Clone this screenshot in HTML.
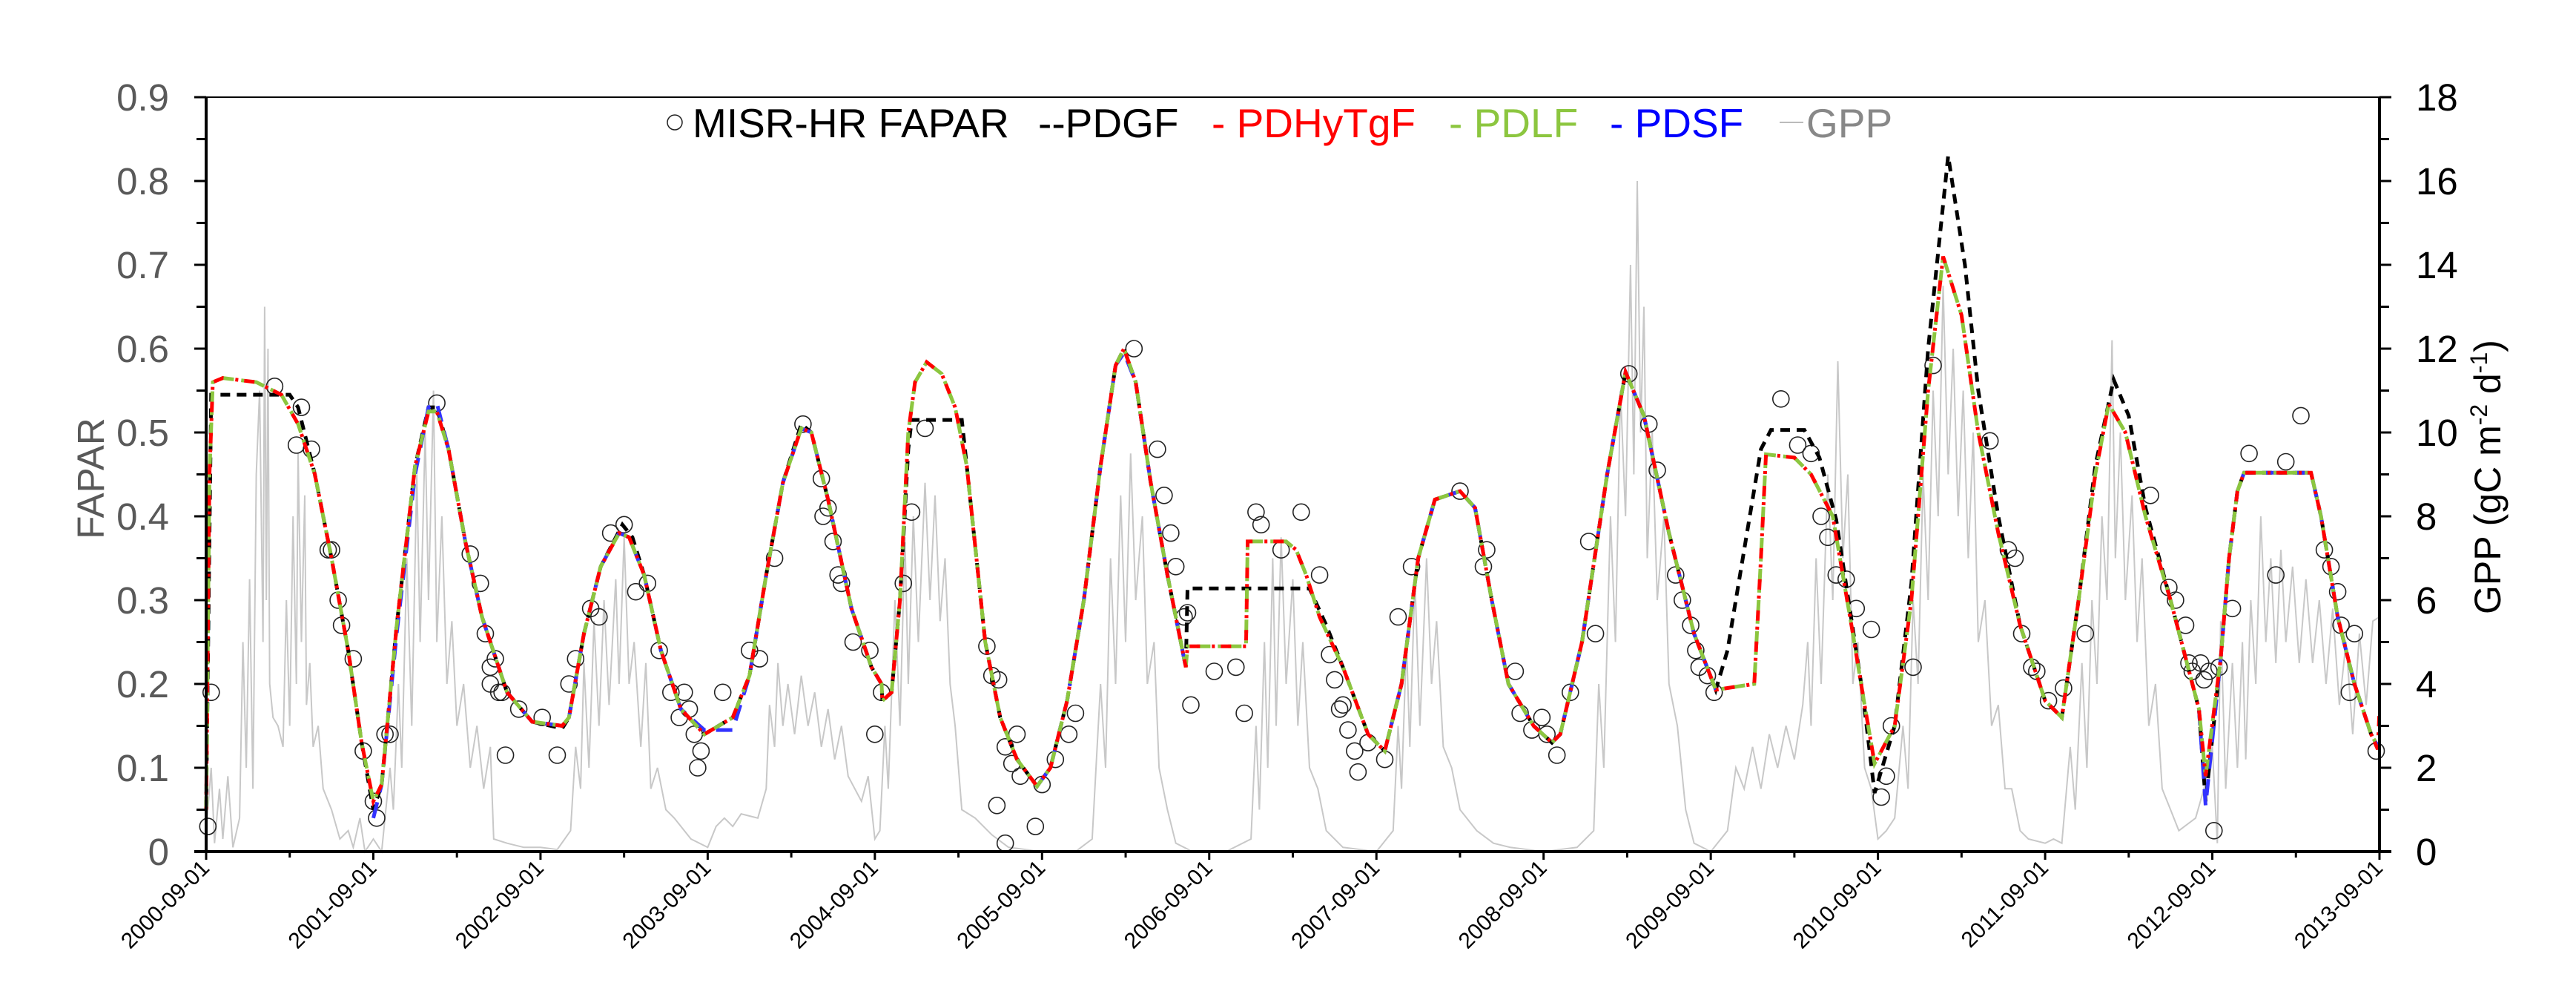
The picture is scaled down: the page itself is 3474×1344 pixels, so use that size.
<!DOCTYPE html>
<html><head><meta charset="utf-8"><title>FAPAR and GPP time series</title>
<style>
html,body{margin:0;padding:0;background:#fff;}
svg{display:block;font-family:"Liberation Sans",Arial,sans-serif;}
</style></head>
<body>
<svg id="chart" width="3474" height="1344" viewBox="0 0 3474 1344" xmlns="http://www.w3.org/2000/svg">
<rect x="0" y="0" width="3474" height="1344" fill="#fff"/>
<g id="gppLayer"></g>
<g id="obsLayer"></g>
<g id="curveLayer"></g>
<g id="axisLayer"></g>
<g id="legend">
  <circle cx="910" cy="165" r="10" fill="none" stroke="#222" stroke-width="1.5"/>
  <text x="934" y="185" font-size="55" fill="#000">MISR-HR FAPAR</text>
  <text x="1400" y="185" font-size="55" fill="#000">--PDGF</text>
  <text x="1634" y="185" font-size="55" fill="#ff0000">- PDHyTgF</text>
  <text x="1954" y="185" font-size="55" fill="#8cc63f">- PDLF</text>
  <text x="2171" y="185" font-size="55" fill="#0000ff">- PDSF</text>
  <line x1="2400" y1="165" x2="2432" y2="165" stroke="#bbb" stroke-width="2"/>
  <text x="2436" y="185" font-size="55" fill="#888">GPP</text>
</g>
<text transform="translate(140,645) rotate(-90)" text-anchor="middle" font-size="51" fill="#595959">FAPAR</text>
<text transform="translate(3372,643) rotate(-90)" text-anchor="middle" font-size="50" fill="#000">GPP (gC m<tspan dy="-18" font-size="32">-2</tspan><tspan dy="18"> d</tspan><tspan dy="-18" font-size="32">-1</tspan><tspan dy="18">)</tspan></text>
</svg>
<script>
// ---- data (t = years since 2000-09-01) ----
const xTickLabels = ["2000-09-01","2001-09-01","2002-09-01","2003-09-01","2004-09-01","2005-09-01","2006-09-01","2007-09-01","2008-09-01","2009-09-01","2010-09-01","2011-09-01","2012-09-01","2013-09-01"];
const leftTicks = ["0","0.1","0.2","0.3","0.4","0.5","0.6","0.7","0.8","0.9"];
const rightTicks = ["0","2","4","6","8","10","12","14","16","18"];

const pdlfT = [0,0.02,0.04,0.1,0.3,0.45,0.55,0.65,0.75,0.85,0.93,1.0,1.05,1.14,1.25,1.33,1.38,1.45,1.55,1.65,1.8,1.95,2.13,2.17,2.26,2.36,2.47,2.53,2.62,2.72,2.84,2.98,3.15,3.25,3.35,3.45,3.56,3.62,3.72,3.86,3.98,4.04,4.045,4.1,4.15,4.2,4.24,4.31,4.4,4.48,4.55,4.66,4.75,4.85,4.97,5.05,5.15,5.25,5.35,5.44,5.49,5.56,5.65,5.75,5.86,5.87,6.22,6.23,6.46,6.52,6.58,6.66,6.8,6.95,7.05,7.15,7.25,7.35,7.5,7.59,7.69,7.79,7.94,8.05,8.1,8.23,8.38,8.49,8.6,8.75,8.9,9.03,9.26,9.3,9.33,9.5,9.6,9.73,9.85,9.91,9.98,10.1,10.2,10.3,10.39,10.5,10.6,10.72,10.85,11.0,11.1,11.2,11.3,11.38,11.48,11.6,11.75,11.92,11.96,12.05,12.1,12.15,12.19,12.59,12.65,12.75,12.85,12.95,13.0];
const pdlfV = [0.05,0.45,0.56,0.565,0.56,0.545,0.51,0.45,0.35,0.24,0.13,0.06,0.08,0.27,0.46,0.525,0.525,0.48,0.37,0.28,0.19,0.155,0.15,0.16,0.26,0.34,0.38,0.375,0.33,0.24,0.17,0.14,0.16,0.21,0.33,0.44,0.505,0.5,0.42,0.29,0.22,0.2,0.18,0.19,0.3,0.5,0.56,0.584,0.57,0.53,0.46,0.25,0.16,0.11,0.078,0.1,0.18,0.3,0.46,0.58,0.6,0.56,0.44,0.33,0.22,0.245,0.245,0.37,0.37,0.36,0.33,0.28,0.22,0.14,0.12,0.2,0.35,0.42,0.43,0.41,0.3,0.2,0.15,0.13,0.14,0.25,0.45,0.572,0.52,0.38,0.26,0.193,0.2,0.35,0.474,0.47,0.45,0.4,0.26,0.187,0.105,0.15,0.3,0.55,0.71,0.64,0.5,0.38,0.27,0.18,0.16,0.3,0.45,0.534,0.5,0.4,0.3,0.17,0.09,0.23,0.35,0.43,0.452,0.452,0.4,0.28,0.2,0.14,0.122];

const pdgfT = [0,0.03,0.5,0.55,0.65,0.75,0.85,0.93,1.0,1.05,1.14,1.25,1.33,1.38,1.45,1.55,1.65,1.8,1.95,2.13,2.17,2.26,2.36,2.49,2.55,2.62,2.72,2.84,2.98,3.15,3.25,3.35,3.45,3.56,3.62,3.72,3.86,3.98,4.04,4.045,4.1,4.15,4.2,4.22,4.52,4.55,4.66,4.75,4.85,4.97,5.05,5.15,5.25,5.35,5.44,5.49,5.56,5.65,5.75,5.86,5.87,6.6,6.7,6.8,6.95,7.05,7.15,7.25,7.35,7.5,7.59,7.69,7.79,7.94,8.05,8.1,8.23,8.38,8.49,8.6,8.75,8.9,9.03,9.1,9.2,9.3,9.36,9.56,9.65,9.75,9.91,9.98,10.1,10.2,10.3,10.42,10.52,10.6,10.72,10.85,11.0,11.1,11.2,11.3,11.41,11.5,11.6,11.75,11.92,11.96,12.05,12.1,12.15,12.19,12.59,12.65,12.75,12.85,12.95,13.0];
const pdgfV = [0.05,0.545,0.545,0.53,0.45,0.35,0.24,0.13,0.05,0.08,0.27,0.46,0.53,0.53,0.48,0.37,0.28,0.19,0.155,0.147,0.16,0.26,0.34,0.39,0.375,0.33,0.24,0.17,0.14,0.16,0.21,0.33,0.44,0.51,0.5,0.42,0.29,0.22,0.2,0.18,0.19,0.3,0.48,0.515,0.515,0.46,0.25,0.16,0.11,0.078,0.1,0.18,0.3,0.46,0.58,0.6,0.56,0.44,0.33,0.22,0.314,0.314,0.27,0.22,0.14,0.12,0.2,0.35,0.42,0.43,0.41,0.3,0.2,0.15,0.13,0.14,0.25,0.45,0.572,0.52,0.38,0.26,0.193,0.24,0.36,0.48,0.503,0.503,0.47,0.396,0.187,0.07,0.15,0.32,0.6,0.83,0.7,0.55,0.4,0.27,0.18,0.16,0.3,0.46,0.563,0.52,0.41,0.3,0.17,0.06,0.23,0.35,0.43,0.452,0.452,0.4,0.28,0.2,0.14,0.122];

const pdhyT = [0,0.02,0.04,0.1,0.3,0.45,0.55,0.65,0.75,0.85,0.93,1.0,1.05,1.14,1.25,1.33,1.38,1.45,1.55,1.65,1.8,1.95,2.13,2.17,2.26,2.36,2.47,2.53,2.62,2.72,2.84,2.98,3.15,3.25,3.35,3.45,3.56,3.62,3.72,3.86,3.98,4.04,4.045,4.1,4.15,4.2,4.24,4.31,4.4,4.48,4.55,4.66,4.75,4.85,4.97,5.05,5.15,5.25,5.35,5.44,5.49,5.56,5.65,5.75,5.86,5.87,6.22,6.23,6.46,6.52,6.58,6.66,6.8,6.95,7.05,7.15,7.25,7.35,7.5,7.59,7.69,7.79,7.94,8.05,8.1,8.23,8.38,8.49,8.6,8.75,8.9,9.03,9.26,9.3,9.33,9.5,9.6,9.73,9.85,9.91,9.98,10.1,10.2,10.3,10.39,10.5,10.6,10.72,10.85,11.0,11.1,11.2,11.3,11.38,11.48,11.6,11.75,11.92,11.96,12.05,12.1,12.15,12.19,12.59,12.65,12.75,12.85,12.95,12.99,13.0];
const pdhyV = [0.05,0.45,0.56,0.565,0.56,0.545,0.51,0.45,0.35,0.24,0.13,0.06,0.08,0.27,0.46,0.525,0.525,0.48,0.37,0.28,0.19,0.155,0.15,0.16,0.26,0.34,0.38,0.375,0.33,0.24,0.17,0.14,0.16,0.21,0.33,0.44,0.505,0.5,0.42,0.29,0.22,0.2,0.18,0.19,0.3,0.5,0.56,0.584,0.57,0.53,0.46,0.25,0.16,0.11,0.078,0.1,0.18,0.3,0.46,0.58,0.6,0.56,0.44,0.33,0.22,0.245,0.245,0.37,0.37,0.36,0.33,0.28,0.22,0.14,0.12,0.2,0.35,0.42,0.43,0.41,0.3,0.2,0.15,0.13,0.14,0.25,0.45,0.572,0.52,0.38,0.26,0.193,0.2,0.35,0.474,0.47,0.45,0.4,0.26,0.187,0.105,0.15,0.3,0.55,0.71,0.64,0.5,0.38,0.27,0.18,0.16,0.3,0.45,0.534,0.5,0.4,0.3,0.17,0.09,0.23,0.35,0.43,0.452,0.452,0.4,0.28,0.2,0.14,0.122,0.17];

// null entries mark gaps where PDSF is not drawn
const pdsfT = [1.0,1.05,1.14,1.25,1.33,1.38,1.45,1.55,1.65,1.8,1.95,2.13,2.17,2.26,2.36,2.47,2.53,2.62,2.72,2.84,2.98,3.15,3.25,3.35,3.45,3.56,3.62,3.72,3.86,3.98,4.04,4.5,4.97,5.05,5.15,5.25,5.35,5.44,5.49,5.56,5.65,5.75,5.86,6.5,7.05,7.15,7.25,7.35,7.5,7.59,7.69,7.79,7.94,8.05,8.1,8.23,8.38,8.49,8.6,8.75,8.9,9.03,10.5,11.92,11.96,12.05,12.1,12.15,12.19,12.59,12.65,12.75,12.85,12.95,13.0];
const pdsfV = [0.04,0.08,0.26,0.45,0.53,0.535,0.48,0.37,0.28,0.19,0.155,0.15,0.16,0.26,0.34,0.38,0.375,0.33,0.24,0.17,0.145,0.145,0.21,0.33,0.44,0.505,0.5,0.42,0.29,0.22,0.2,null,0.078,0.1,0.18,0.3,0.46,0.58,0.595,0.56,0.44,0.33,0.22,null,0.12,0.2,0.35,0.42,0.43,0.41,0.3,0.2,0.15,0.13,0.14,0.25,0.45,0.572,0.52,0.38,0.26,0.193,null,0.17,0.055,0.23,0.35,0.43,0.452,0.452,0.4,0.28,0.2,0.14,0.122];

const obsT = [0.01,0.03,0.41,0.54,0.57,0.63,0.73,0.75,0.79,0.81,0.88,0.94,1.0,1.02,1.07,1.1,1.38,1.58,1.64,1.67,1.7,1.7,1.73,1.75,1.77,1.79,1.87,2.01,2.1,2.17,2.21,2.3,2.35,2.42,2.5,2.57,2.64,2.71,2.78,2.83,2.86,2.89,2.92,2.94,2.96,3.09,3.25,3.31,3.4,3.57,3.68,3.69,3.72,3.75,3.78,3.8,3.87,3.97,4.0,4.04,4.17,4.22,4.3,4.67,4.7,4.74,4.78,4.82,4.85,4.87,4.73,4.78,4.96,5.0,5.08,5.16,5.2,5.55,5.69,5.73,5.77,5.8,5.85,5.87,5.89,6.03,6.16,6.21,6.28,6.31,6.43,6.55,6.66,6.72,6.75,6.78,6.8,6.83,6.87,6.89,6.95,7.05,7.13,7.21,7.5,7.64,7.66,7.83,7.86,7.93,7.99,8.02,8.08,8.16,8.27,8.31,8.51,8.63,8.68,8.79,8.83,8.88,8.91,8.93,8.98,9.02,9.42,9.52,9.6,9.66,9.7,9.75,9.81,9.87,9.96,10.02,10.05,10.08,10.21,10.33,10.67,10.78,10.82,10.86,10.92,10.95,11.02,11.11,11.24,11.63,11.74,11.78,11.84,11.86,11.88,11.93,11.95,11.98,12.01,12.04,12.12,12.22,12.38,12.44,12.53,12.67,12.71,12.75,12.77,12.82,12.85,12.98];
const obsV = [0.03,0.19,0.555,0.485,0.53,0.48,0.36,0.36,0.3,0.27,0.23,0.12,0.06,0.04,0.14,0.14,0.535,0.355,0.32,0.26,0.22,0.2,0.23,0.19,0.19,0.115,0.17,0.16,0.115,0.2,0.23,0.29,0.28,0.38,0.39,0.31,0.32,0.24,0.19,0.16,0.19,0.17,0.14,0.1,0.12,0.19,0.24,0.23,0.35,0.51,0.445,0.4,0.41,0.37,0.33,0.32,0.25,0.24,0.14,0.19,0.32,0.405,0.505,0.245,0.21,0.205,0.125,0.105,0.14,0.09,0.055,0.01,0.03,0.08,0.11,0.14,0.165,0.6,0.48,0.425,0.38,0.34,0.28,0.285,0.175,0.215,0.22,0.165,0.405,0.39,0.36,0.405,0.33,0.235,0.205,0.17,0.175,0.145,0.12,0.095,0.13,0.11,0.28,0.34,0.43,0.34,0.36,0.215,0.165,0.145,0.16,0.14,0.115,0.19,0.37,0.26,0.57,0.51,0.455,0.33,0.3,0.27,0.24,0.22,0.21,0.19,0.54,0.485,0.475,0.4,0.375,0.33,0.325,0.29,0.265,0.065,0.09,0.15,0.22,0.58,0.49,0.36,0.35,0.26,0.22,0.215,0.18,0.195,0.26,0.425,0.315,0.3,0.27,0.225,0.215,0.225,0.205,0.215,0.025,0.22,0.29,0.475,0.33,0.465,0.52,0.36,0.34,0.31,0.27,0.19,0.26,0.12];

const gppT = [0,0.03,0.05,0.08,0.1,0.13,0.16,0.2,0.22,0.24,0.26,0.28,0.3,0.32,0.34,0.35,0.36,0.37,0.38,0.4,0.43,0.46,0.48,0.5,0.52,0.54,0.55,0.57,0.59,0.6,0.62,0.64,0.67,0.7,0.75,0.8,0.85,0.88,0.92,0.95,1.0,1.05,1.1,1.12,1.15,1.17,1.2,1.23,1.26,1.28,1.31,1.33,1.36,1.38,1.41,1.44,1.47,1.5,1.54,1.58,1.62,1.66,1.7,1.72,1.8,1.9,2.0,2.1,2.18,2.21,2.24,2.26,2.29,2.32,2.35,2.38,2.41,2.45,2.47,2.5,2.53,2.56,2.6,2.63,2.66,2.7,2.75,2.8,2.9,3.0,3.05,3.1,3.15,3.2,3.3,3.35,3.37,3.4,3.42,3.45,3.48,3.52,3.56,3.6,3.64,3.68,3.72,3.76,3.8,3.84,3.88,3.92,3.96,4.0,4.03,4.06,4.08,4.12,4.15,4.18,4.2,4.23,4.26,4.3,4.33,4.36,4.39,4.42,4.45,4.48,4.52,4.6,4.7,4.8,5.0,5.2,5.3,5.35,5.38,5.41,5.44,5.47,5.5,5.53,5.56,5.6,5.63,5.67,5.7,5.75,5.8,5.9,6.1,6.25,6.28,6.3,6.33,6.35,6.38,6.4,6.43,6.46,6.5,6.53,6.56,6.6,6.65,6.7,6.8,7.0,7.1,7.13,7.15,7.18,7.2,7.23,7.26,7.3,7.33,7.36,7.4,7.45,7.5,7.6,7.7,7.8,8.0,8.2,8.3,8.33,8.36,8.4,8.43,8.46,8.49,8.52,8.54,8.56,8.58,8.6,8.62,8.65,8.68,8.72,8.75,8.8,8.85,8.9,9.0,9.1,9.15,9.2,9.25,9.3,9.35,9.4,9.45,9.5,9.55,9.58,9.6,9.63,9.66,9.7,9.73,9.76,9.79,9.82,9.85,9.88,9.92,9.96,10.0,10.05,10.1,10.15,10.18,10.21,10.24,10.27,10.3,10.33,10.36,10.39,10.42,10.45,10.48,10.51,10.54,10.57,10.6,10.64,10.68,10.72,10.76,10.8,10.85,10.9,11.0,11.05,11.1,11.15,11.18,11.22,11.25,11.28,11.31,11.34,11.37,11.4,11.42,11.45,11.48,11.52,11.55,11.58,11.62,11.66,11.7,11.75,11.8,11.9,11.95,12.0,12.03,12.05,12.08,12.12,12.15,12.18,12.2,12.23,12.26,12.29,12.32,12.35,12.38,12.41,12.44,12.48,12.52,12.56,12.6,12.64,12.68,12.72,12.76,12.8,12.84,12.88,12.92,12.96,13.0];
const gppV = [0.5,2,0.2,1.5,0.3,1.8,0.1,0.8,5,2,6.5,1.5,9,11,5,13,6,12,4,3.2,3,2.5,6,3,8,4,9.5,5,8.5,3.5,4.5,2.5,3,1.5,1,0.3,0.5,0.1,0.8,0,0.3,0,2,1,4,2,7,3,9,5,10,6,11,5,8,4,5.5,3,4,2,3,1.5,2.5,0.3,0.2,0.1,0.1,0.05,0.5,2.5,1.5,4.5,2,5.5,3,6,3.5,6.5,4,7.5,4,5,2.5,4.5,1.5,2,1,0.8,0.3,0.1,0.6,0.8,0.6,0.9,0.8,1.5,3.5,2.5,4.5,3,4,2.8,4.2,3,3.8,2.5,3.4,2.2,3,1.8,1.5,1.2,1.8,0.3,0.5,3,1.5,6,3,7.5,4,8,5,8.8,6,8.5,5.5,7,4,3,1,0.8,0.4,0.1,0,0,0.3,4,2,7,4,8.5,5,9.5,6,8,4,5,2,1,0.2,0,0,0.3,3,1,5,2,7,3,7.5,4,6.5,3,5,2,1.5,0.5,0.1,0,0.5,3,1.5,5,2.5,6.5,3,7,4,5.5,2.5,2,1,0.5,0.2,0.1,0,0.1,0.5,4,2,8,5,11,8,14,9,16,10,13,7,10,6,8,4,3,1,0.2,0,0.5,2,1.5,2.5,1.5,2.8,2,3,2.2,3.5,5,3,7,4,9,6,11.7,7,9,4,5,2,1.5,0.3,0.5,0.8,3,1.5,6,4,9,6,11,8,13.5,9,12,8,11,7,10,5,6,3,3.5,1.5,1.5,0.5,0.3,0.2,0.3,0.2,2.5,1,4.5,2,6,4,8,6,12.2,7,10,6,8.5,5,7,3,4,1.5,1,0.5,0.8,1.5,2.5,0.2,5.5,1.5,4.5,2,5,2.2,6,4,8,5,7,4.5,7.2,5,6.8,4.5,6.5,4.5,6,4,5.8,3.5,5,2.8,5.2,3.5,5.5,5.6];

// ---- geometry ----
const X0 = 278, X1 = 3209, Y0 = 1148, Y1 = 131;
const NS = 'http://www.w3.org/2000/svg';
function xScale(t){ return X0 + (X1 - X0) * t / 13; }
function yLeft(v){ return Y0 - (Y0 - Y1) * v / 0.9; }
function yRight(g){ return Y0 - (Y0 - Y1) * g / 18; }
function mk(tag, attrs, parent){
  const e = document.createElementNS(NS, tag);
  for (const k in attrs) e.setAttribute(k, attrs[k]);
  parent.appendChild(e);
  return e;
}
function pathFrom(ts, vs, ys){
  let d = '', pen = false;
  for (let i = 0; i < ts.length; i++) {
    if (vs[i] === null) { pen = false; continue; }
    d += (pen ? 'L' : 'M') + xScale(ts[i]).toFixed(1) + ',' + ys(vs[i]).toFixed(1);
    pen = true;
  }
  return d;
}

// GPP
const gppLayer = document.getElementById('gppLayer');
const gp = mk('path', {d: pathFrom(gppT, gppV, yRight), fill: 'none', stroke: '#c8c8c8', 'stroke-width': 2}, gppLayer);



// observations
const obsLayer = document.getElementById('obsLayer');
for (let i = 0; i < obsT.length; i++) {
  const c = mk('circle', {cx: xScale(obsT[i]).toFixed(1), cy: yLeft(obsV[i]).toFixed(1), r: 11, fill: 'none', stroke: '#222', 'stroke-width': 1.6}, obsLayer);
  
  
}

// curves
const curveLayer = document.getElementById('curveLayer');
const pg = mk('path', {d: pathFrom(pdgfT, pdgfV, yLeft), fill: 'none', stroke: '#000', 'stroke-width': 5, 'stroke-dasharray': '13 9'}, curveLayer);


const ps = mk('path', {d: pathFrom(pdsfT, pdsfV, yLeft), fill: 'none', stroke: '#3333ff', 'stroke-width': 5, 'stroke-dasharray': '22 14'}, curveLayer);


const pl = mk('path', {d: pathFrom(pdlfT, pdlfV, yLeft), fill: 'none', stroke: '#8cc63f', 'stroke-width': 5, 'stroke-dasharray': '18 10 4 10'}, curveLayer);


const ph = mk('path', {d: pathFrom(pdhyT, pdhyV, yLeft), fill: 'none', stroke: '#ff0000', 'stroke-width': 5, 'stroke-dasharray': '14 16 4 8', 'stroke-dashoffset': 10}, curveLayer);



// axes
const ax = document.getElementById('axisLayer');
const frame = mk('line', {x1: X0, y1: Y1, x2: X1, y2: Y1, stroke: '#000', 'stroke-width': 2}, ax);


const la = mk('line', {x1: X0, y1: Y1, x2: X0, y2: Y0 + 2, stroke: '#000', 'stroke-width': 4}, ax);


const ra = mk('line', {x1: X1, y1: Y1, x2: X1, y2: Y0 + 2, stroke: '#000', 'stroke-width': 4}, ax);


const xa = mk('line', {x1: X0 - 16, y1: Y0, x2: X1 + 16, y2: Y0, stroke: '#000', 'stroke-width': 4}, ax);



for (let i = 0; i < leftTicks.length; i++) {
  const v = i * 0.1, y = yLeft(v);
  const tk = mk('line', {x1: X0 - 16, y1: y, x2: X0, y2: y, stroke: '#000', 'stroke-width': 3}, ax);
  
  
  if (i < leftTicks.length - 1) {
    const mt = mk('line', {x1: X0 - 13, y1: yLeft(v + 0.05), x2: X0, y2: yLeft(v + 0.05), stroke: '#000', 'stroke-width': 3}, ax);
    
    
  }
  const tx = mk('text', {x: 228, y: y + 18, 'text-anchor': 'end', 'font-size': 51, fill: '#595959'}, ax);
  tx.textContent = leftTicks[i];
  
  
}
for (let i = 0; i < rightTicks.length; i++) {
  const g = i * 2, y = yRight(g);
  const tk = mk('line', {x1: X1, y1: y, x2: X1 + 16, y2: y, stroke: '#000', 'stroke-width': 3}, ax);
  
  
  if (i < rightTicks.length - 1) {
    const mt = mk('line', {x1: X1, y1: yRight(g + 1), x2: X1 + 13, y2: yRight(g + 1), stroke: '#000', 'stroke-width': 3}, ax);
    
    
  }
  const tx = mk('text', {x: 3258, y: y + 18, 'text-anchor': 'start', 'font-size': 51, fill: '#000'}, ax);
  tx.textContent = rightTicks[i];
  
  
}
for (let i = 0; i < xTickLabels.length; i++) {
  const x = xScale(i);
  const tk = mk('line', {x1: x, y1: Y0, x2: x, y2: Y0 + 11, stroke: '#000', 'stroke-width': 3}, ax);
  
  
  if (i < xTickLabels.length - 1) {
    const mt = mk('line', {x1: xScale(i + 0.5), y1: Y0, x2: xScale(i + 0.5), y2: Y0 + 8, stroke: '#000', 'stroke-width': 3}, ax);
    
    
  }
  const tx = mk('text', {transform: 'translate(' + (x + 6) + ',' + 1172 + ') rotate(-45)', 'text-anchor': 'end', 'font-size': 30, fill: '#000'}, ax);
  tx.textContent = xTickLabels[i];
  
  
}
</script>
</body></html>
